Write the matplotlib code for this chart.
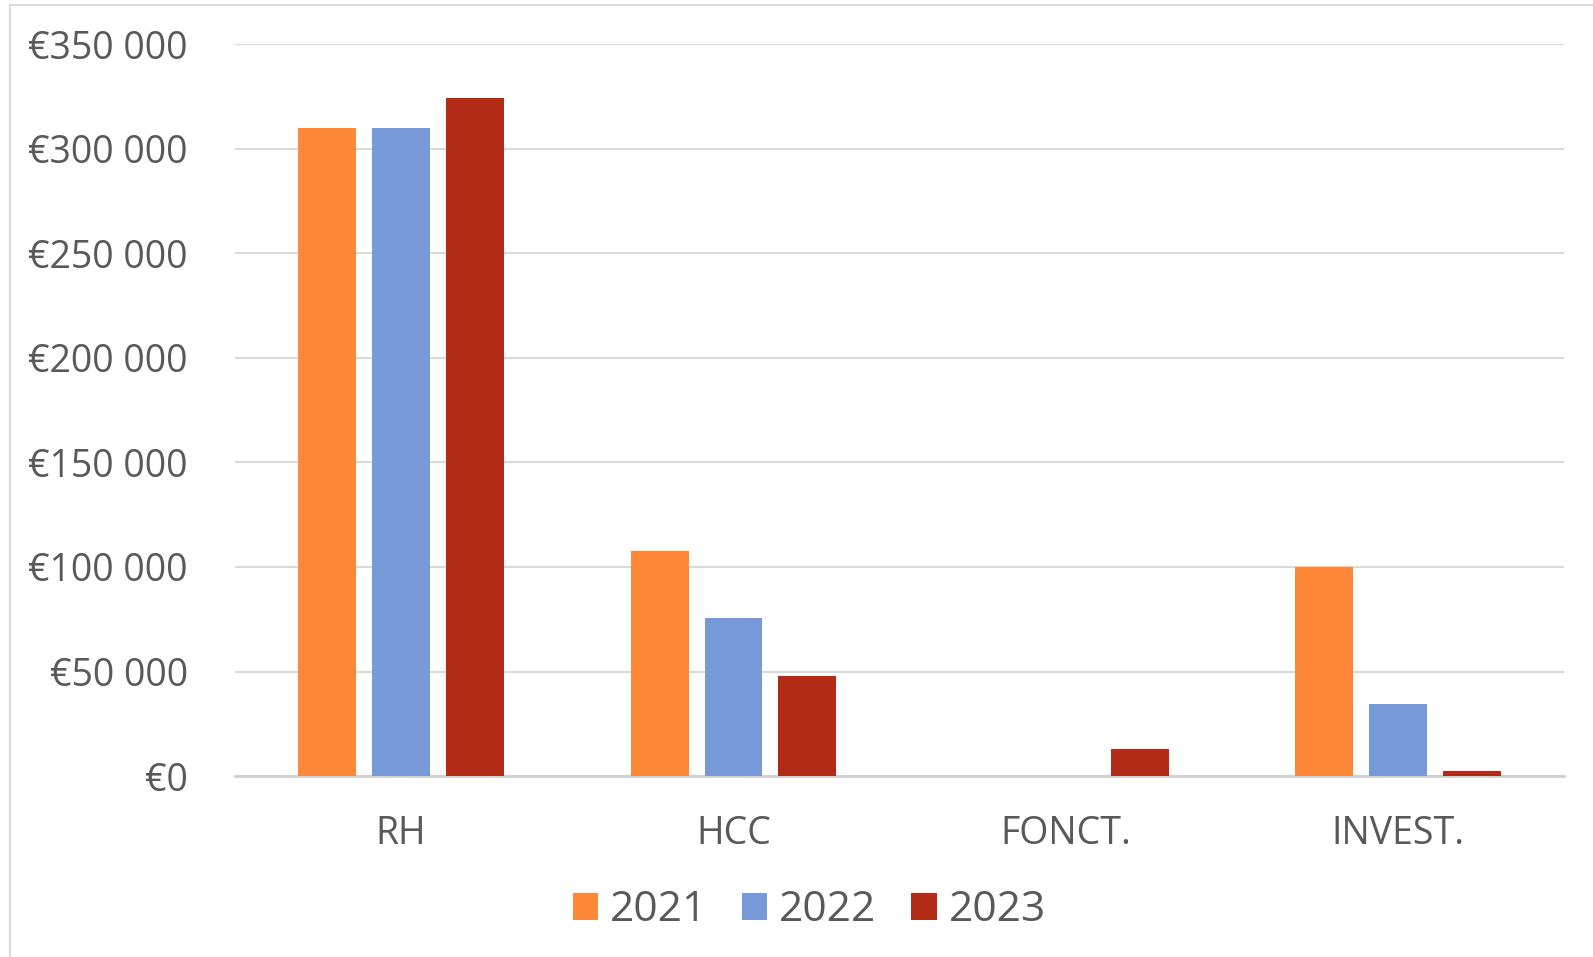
import numpy as np
import matplotlib.pyplot as plt
from matplotlib.lines import Line2D

plt.rcParams['font.family'] = ['Open Sans', 'DejaVu Sans']

categories = ['RH', 'HCC', 'FONCT.', 'INVEST.']
years = ['2021', '2022', '2023']
v2021 = [310000, 107500, 0, 100000]
v2022 = [310000, 75500, 0, 34500]
v2023 = [324000, 48000, 12800, 2500]
colors = ['#FF8838', '#7799D7', '#B22B17']
yticks = [0, 50000, 100000, 150000, 200000, 250000, 300000, 350000]

fig = plt.figure(figsize=(15.93, 9.57), dpi=100)
ax = fig.add_axes([0.1475, 0.189, 0.8345, 0.765])

x = np.arange(len(categories))
w = 0.174
step = 0.222
for i, (vals, lab) in enumerate(zip([v2021, v2022, v2023], years)):
    ax.bar(x + (i - 1) * step, vals, width=w, color=colors[i], label=lab, zorder=3)

ax.set_xlim(-0.5, len(categories) - 0.5)
ax.set_ylim(0, 350000)
ax.set_yticks(yticks)
ax.set_yticklabels(['€' + f'{v:,}'.replace(',', ' ') for v in yticks])
ax.set_xticks(x)
ax.set_xticklabels(categories)
ax.tick_params(axis='y', length=0, pad=34, labelsize=27, labelcolor='#595959')
ax.tick_params(axis='x', length=0, pad=28, labelsize=27, labelcolor='#595959')
ax.grid(axis='y', color='#d9d9d9', linewidth=1.5, zorder=0)
for s in ['top', 'right', 'left']:
    ax.spines[s].set_visible(False)
ax.spines['bottom'].set_color('#d0d0d0')
ax.spines['bottom'].set_linewidth(2)

leg = fig.legend(loc='center', bbox_to_anchor=(0.508, 0.049), ncol=3, frameon=False,
                 fontsize=30.5, handlelength=0.6, handleheight=0.6,
                 handletextpad=0.28, columnspacing=0.82)
for t in leg.get_texts():
    t.set_color('#595959')

# outer frame of the chart (left and top edges)
fig.add_artist(Line2D([10 / 1593, 10 / 1593], [0, 1 - 5 / 957], color='#d9d9d9', linewidth=1.5))
fig.add_artist(Line2D([10 / 1593, 1], [1 - 5 / 957, 1 - 5 / 957], color='#d9d9d9', linewidth=1.5))

fig.savefig('out.png', dpi=100)
